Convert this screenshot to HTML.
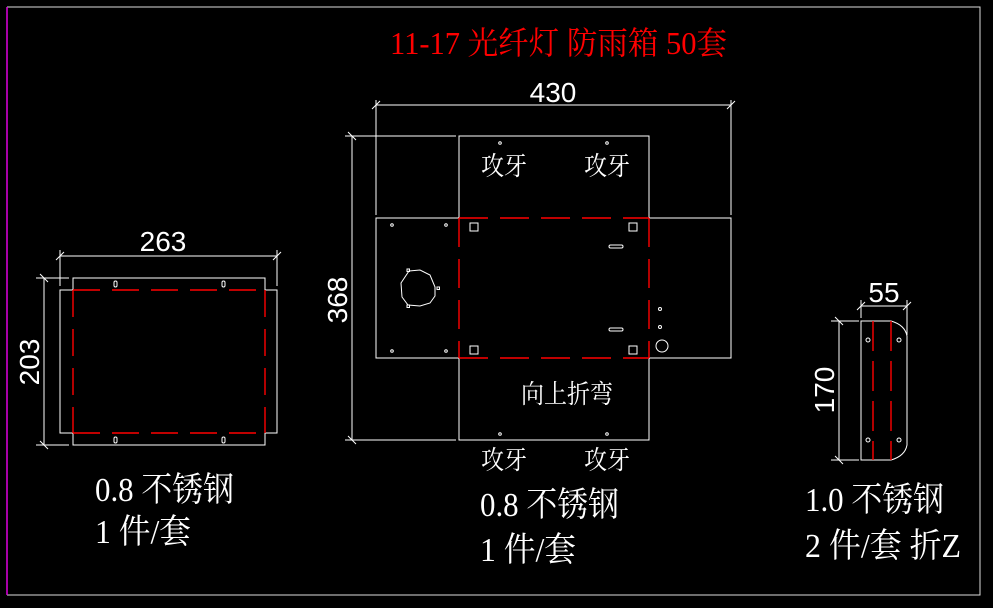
<!DOCTYPE html>
<html><head><meta charset="utf-8"><style>
html,body{margin:0;padding:0;background:#000;}
svg{display:block;}
text{font-family:"Liberation Serif","Noto Serif CJK SC","Noto Sans CJK SC",serif;}
text.d{font-family:"Liberation Sans","DejaVu Sans",sans-serif;font-weight:normal;}
</style></head><body>
<svg width="993" height="608" viewBox="0 0 993 608" xmlns="http://www.w3.org/2000/svg">
<rect width="993" height="608" fill="#000"/>
<g fill="none" stroke="#ddd" stroke-width="1">
<polyline points="7,7 980,7 980,595 7,595"/>
</g>
<line x1="7" y1="7" x2="7" y2="595" stroke="#e000e0" stroke-width="1.5"/>
<text x="390" y="54" fill="#f00" font-size="32" textLength="337" lengthAdjust="spacingAndGlyphs">11-17 光纤灯 防雨箱 50套</text>

<!-- left piece -->
<g fill="none" stroke="#fff" stroke-width="1">
<polyline points="73,290 73,278 265,278 265,290"/>
<polyline points="73,433 73,445 265,445 265,433"/>
<polyline points="73,290 60,290 60,433 73,433"/>
<polyline points="265,290 277,290 277,433 265,433"/>
<line x1="60" y1="256" x2="277" y2="256"/>
<line x1="60" y1="250" x2="60" y2="286"/>
<line x1="277" y1="250" x2="277" y2="286"/>
<line x1="56" y1="260" x2="64" y2="252"/><line x1="273" y1="260" x2="281" y2="252"/>
<line x1="44" y1="278" x2="44" y2="445"/>
<line x1="36" y1="278" x2="69" y2="278"/><line x1="36" y1="445" x2="69" y2="445"/>
<line x1="40" y1="274" x2="48" y2="282"/><line x1="40" y1="441" x2="48" y2="449"/>
<rect x="114" y="281" width="3" height="6" rx="1.5"/><rect x="222" y="281" width="3" height="6" rx="1.5"/>
<rect x="114" y="437" width="3" height="6" rx="1.5"/><rect x="222" y="437" width="3" height="6" rx="1.5"/>
</g>
<g stroke="#f00" stroke-width="1.4" stroke-dasharray="27,12">
<line x1="73" y1="290" x2="265" y2="290"/><line x1="73" y1="433" x2="265" y2="433"/>
<line x1="73" y1="290" x2="73" y2="433"/><line x1="265" y1="290" x2="265" y2="433"/>
</g>
<text class="d" x="163" y="251" fill="#fff" font-size="28" text-anchor="middle">263</text>
<text class="d" transform="translate(39,362) rotate(-90)" fill="#fff" font-size="28" text-anchor="middle">203</text>
<text x="95" y="501" fill="#fff" font-size="34" textLength="139" lengthAdjust="spacingAndGlyphs">0.8 不锈钢</text>
<text x="95" y="543" fill="#fff" font-size="34" textLength="96" lengthAdjust="spacingAndGlyphs">1 件/套</text>

<!-- middle piece -->
<g fill="none" stroke="#fff" stroke-width="1">
<polyline points="459,218 459,136 649,136 649,218"/>
<polyline points="459,358 459,440 649,440 649,358"/>
<polyline points="459,218 376,218 376,358 459,358"/>
<polyline points="649,218 731,218 731,358 649,358"/>
<line x1="376" y1="105" x2="731" y2="105"/>
<line x1="376" y1="100" x2="376" y2="215"/><line x1="731" y1="100" x2="731" y2="215"/>
<line x1="372" y1="109" x2="380" y2="101"/><line x1="727" y1="109" x2="735" y2="101"/>
<line x1="352" y1="136" x2="352" y2="440"/>
<line x1="345" y1="136" x2="456" y2="136"/><line x1="345" y1="440" x2="456" y2="440"/>
<line x1="348" y1="132" x2="356" y2="140"/><line x1="348" y1="436" x2="356" y2="444"/>
<rect x="470" y="223" width="8" height="8"/><rect x="629" y="223" width="8" height="8"/>
<rect x="470" y="346" width="8" height="8"/><rect x="629" y="346" width="8" height="8"/>
<polygon points="409,271 420,270 430,275 435,287 435,296 430,303 420,306 408,305 402,297 401,283"/>
<rect x="407" y="269" width="2.5" height="2.5"/><rect x="437" y="287" width="2.5" height="2.5"/><rect x="407" y="305" width="2.5" height="2.5"/>
<rect x="609" y="245" width="14" height="3" rx="1.5"/><rect x="609" y="328" width="14" height="3" rx="1.5"/>
<circle cx="662" cy="346" r="6"/>
<circle cx="660" cy="309" r="1.5"/><circle cx="660" cy="327" r="1.5"/>
<circle cx="392" cy="225" r="1.3"/><circle cx="446" cy="225" r="1.3"/>
<circle cx="392" cy="351" r="1.3"/><circle cx="446" cy="351" r="1.3"/>
<circle cx="500" cy="143" r="1.3"/><circle cx="607" cy="143" r="1.3"/>
<circle cx="500" cy="434" r="1.3"/><circle cx="607" cy="434" r="1.3"/>
</g>
<g stroke="#f00" stroke-width="1.4" stroke-dasharray="29,12">
<line x1="459" y1="218" x2="649" y2="218"/><line x1="459" y1="358" x2="649" y2="358"/>
<line x1="459" y1="218" x2="459" y2="358"/><line x1="649" y1="218" x2="649" y2="358"/>
</g>
<text class="d" x="553" y="102" fill="#fff" font-size="28" text-anchor="middle">430</text>
<text class="d" transform="translate(347,300) rotate(-90)" fill="#fff" font-size="28" text-anchor="middle">368</text>
<text x="481" y="175" fill="#fff" font-size="26" textLength="46" lengthAdjust="spacingAndGlyphs">攻牙</text>
<text x="584" y="175" fill="#fff" font-size="26" textLength="46" lengthAdjust="spacingAndGlyphs">攻牙</text>
<text x="521" y="403" fill="#fff" font-size="26" textLength="92" lengthAdjust="spacingAndGlyphs">向上折弯</text>
<text x="481" y="469" fill="#fff" font-size="26" textLength="46" lengthAdjust="spacingAndGlyphs">攻牙</text>
<text x="584" y="469" fill="#fff" font-size="26" textLength="46" lengthAdjust="spacingAndGlyphs">攻牙</text>
<text x="480" y="516" fill="#fff" font-size="34" textLength="139" lengthAdjust="spacingAndGlyphs">0.8 不锈钢</text>
<text x="480" y="561" fill="#fff" font-size="34" textLength="96" lengthAdjust="spacingAndGlyphs">1 件/套</text>

<!-- right piece -->
<g fill="none" stroke="#fff" stroke-width="1">
<path d="M861,321 L891,321 Q905,325 907,336 L907,445 Q905,456 891,460 L861,460 Z"/>
<line x1="861" y1="306" x2="907" y2="306"/>
<line x1="861" y1="300" x2="861" y2="318"/><line x1="907" y1="300" x2="907" y2="335"/>
<line x1="857" y1="310" x2="865" y2="302"/><line x1="903" y1="310" x2="911" y2="302"/>
<line x1="839" y1="321" x2="839" y2="460"/>
<line x1="831" y1="321" x2="859" y2="321"/><line x1="831" y1="460" x2="859" y2="460"/>
<line x1="835" y1="317" x2="843" y2="325"/><line x1="835" y1="456" x2="843" y2="464"/>
<circle cx="868" cy="340" r="2"/><circle cx="899" cy="340" r="2"/>
<circle cx="868" cy="440" r="2"/><circle cx="899" cy="440" r="2"/>
</g>
<g stroke="#f00" stroke-width="1.4" stroke-dasharray="30,10">
<line x1="873" y1="321" x2="873" y2="460"/><line x1="891" y1="321" x2="891" y2="460"/>
</g>
<text class="d" x="884" y="302" fill="#fff" font-size="28" text-anchor="middle">55</text>
<text class="d" transform="translate(834,390) rotate(-90)" fill="#fff" font-size="28" text-anchor="middle">170</text>
<text x="805" y="511" fill="#fff" font-size="34" textLength="139" lengthAdjust="spacingAndGlyphs">1.0 不锈钢</text>
<text x="805" y="557" fill="#fff" font-size="34" textLength="156" lengthAdjust="spacingAndGlyphs">2 件/套 折Z</text>
</svg>
</body></html>
